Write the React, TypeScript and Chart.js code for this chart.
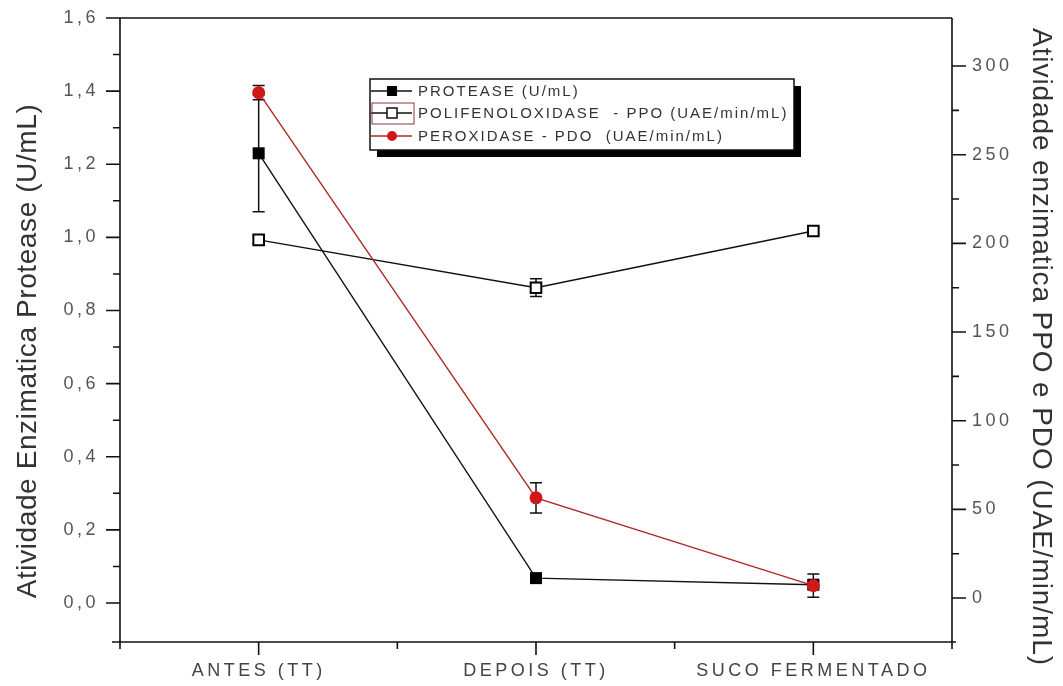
import React, { useEffect, useRef } from 'react';
import { Chart, registerables } from 'chart.js';

Chart.register(...registerables);

const categories = ['ANTES (TT)', 'DEPOIS (TT)', 'SUCO FERMENTADO'];
const proteaseValues = [1.23, 0.068, 0.05];
const proteaseErrors = [0.16, 0.012, 0.01];
const ppoValues = [202, 175, 207];
const ppoErrors = [2, 5, 2];
const pdoValues = [285, 56.5, 7];
const pdoErrors = [4, 8.5, 6.5];
const leftTicks = [0, 0.2, 0.4, 0.6, 0.8, 1.0, 1.2, 1.4, 1.6];
const rightTicks = [0, 50, 100, 150, 200, 250, 300];
const legendLabels = [
  'PROTEASE (U/mL)',
  'POLIFENOLOXIDASE  - PPO (UAE/min/mL)',
  'PEROXIDASE - PDO  (UAE/min/mL)',
];
const leftTitle = 'Atividade Enzimatica Protease (U/mL)';
const rightTitle = 'Atividade enzimatica PPO e PDO (UAE/min/mL)';

const FONT = '"Liberation Sans", Arial, sans-serif';
const RED = '#d01818';

const mids = (arr: number[]) => arr.slice(1).map((v, i) => (v + arr[i]) / 2);

const decorPlugin = {
  id: 'decor',
  beforeDraw(chart: any) {
    chart.ctx.letterSpacing = '3.5px';
  },
  beforeDatasetsDraw(chart: any) {
    const ctx = chart.ctx;
    ctx.letterSpacing = '0px';
    const { x, y, y1 } = chart.scales;
    const drawErr = (vals: number[], errs: number[], ys: any) => {
      ctx.save();
      ctx.strokeStyle = '#111';
      ctx.lineWidth = 1.5;
      vals.forEach((v, i) => {
        const px = x.getPixelForValue(i + 1);
        const top = ys.getPixelForValue(v + errs[i]);
        const bot = ys.getPixelForValue(v - errs[i]);
        ctx.beginPath();
        ctx.moveTo(px, top);
        ctx.lineTo(px, bot);
        ctx.moveTo(px - 6, top);
        ctx.lineTo(px + 6, top);
        ctx.moveTo(px - 6, bot);
        ctx.lineTo(px + 6, bot);
        ctx.stroke();
      });
      ctx.restore();
    };
    drawErr(proteaseValues, proteaseErrors, y);
    drawErr(ppoValues, ppoErrors, y1);
    drawErr(pdoValues, pdoErrors, y1);
  },
  afterDraw(chart: any) {
    const ctx = chart.ctx;
    const ca = chart.chartArea;
    const { x, y, y1 } = chart.scales;
    ctx.save();
    ctx.letterSpacing = '0px';
    ctx.strokeStyle = '#111';
    ctx.lineWidth = 1.6;
    ctx.beginPath();
    ctx.moveTo(ca.left, ca.top);
    ctx.lineTo(ca.right, ca.top);
    ctx.moveTo(ca.left - 8, ca.bottom);
    ctx.lineTo(ca.right + 4, ca.bottom);
    ctx.moveTo(ca.left, ca.top);
    ctx.lineTo(ca.left, ca.bottom);
    ctx.moveTo(ca.right, ca.top);
    ctx.lineTo(ca.right, ca.bottom);
    leftTicks.forEach((v) => {
      const p = y.getPixelForValue(v);
      ctx.moveTo(ca.left - 14, p);
      ctx.lineTo(ca.left, p);
    });
    mids(leftTicks).forEach((v) => {
      const p = y.getPixelForValue(v);
      ctx.moveTo(ca.left - 7, p);
      ctx.lineTo(ca.left, p);
    });
    rightTicks.forEach((v) => {
      const p = y1.getPixelForValue(v);
      ctx.moveTo(ca.right, p);
      ctx.lineTo(ca.right + 14, p);
    });
    mids(rightTicks).forEach((v) => {
      const p = y1.getPixelForValue(v);
      ctx.moveTo(ca.right, p);
      ctx.lineTo(ca.right + 7, p);
    });
    categories.forEach((_, i) => {
      const p = x.getPixelForValue(i + 1);
      ctx.moveTo(p, ca.bottom);
      ctx.lineTo(p, ca.bottom + 13);
    });
    [0.5, 1.5, 2.5, 3.5].forEach((v) => {
      const p = x.getPixelForValue(v);
      ctx.moveTo(p, ca.bottom);
      ctx.lineTo(p, ca.bottom + 7);
    });
    ctx.stroke();

    // axis titles
    ctx.fillStyle = '#333';
    ctx.font = `28px ${FONT}`;
    ctx.textAlign = 'center';
    ctx.textBaseline = 'middle';
    ctx.save();
    ctx.letterSpacing = '0.6px';
    ctx.translate(28, 351);
    ctx.rotate(-Math.PI / 2);
    ctx.fillText(leftTitle, 0, 0);
    ctx.restore();
    ctx.save();
    ctx.letterSpacing = '0.9px';
    ctx.translate(1041, 347);
    ctx.rotate(Math.PI / 2);
    ctx.fillText(rightTitle, 0, 0);
    ctx.restore();

    // legend
    const bx = 370, by = 79, bw = 424, bh = 71;
    ctx.fillStyle = '#000';
    ctx.fillRect(bx + 7, by + 7, bw, bh);
    ctx.fillStyle = '#fff';
    ctx.fillRect(bx, by, bw, bh);
    ctx.strokeStyle = '#111';
    ctx.lineWidth = 1.5;
    ctx.strokeRect(bx, by, bw, bh);
    const rows = [91, 113, 136];
    const sx = 392;
    ctx.beginPath();
    ctx.moveTo(bx + 1, rows[0]);
    ctx.lineTo(412, rows[0]);
    ctx.stroke();
    ctx.fillStyle = '#000';
    ctx.fillRect(sx - 5, rows[0] - 5, 10, 10);
    ctx.beginPath();
    ctx.moveTo(bx + 1, rows[1]);
    ctx.lineTo(412, rows[1]);
    ctx.stroke();
    ctx.fillStyle = '#fff';
    ctx.fillRect(sx - 5, rows[1] - 5, 10, 10);
    ctx.lineWidth = 1.5;
    ctx.strokeRect(sx - 5, rows[1] - 5, 10, 10);
    ctx.strokeStyle = '#8a3a3a';
    ctx.lineWidth = 1;
    ctx.strokeRect(372, 103, 42, 21);
    ctx.strokeStyle = '#b02828';
    ctx.lineWidth = 1.5;
    ctx.beginPath();
    ctx.moveTo(bx + 1, rows[2]);
    ctx.lineTo(412, rows[2]);
    ctx.stroke();
    ctx.fillStyle = RED;
    ctx.beginPath();
    ctx.arc(sx, rows[2], 5, 0, Math.PI * 2);
    ctx.fill();
    ctx.fillStyle = '#333';
    ctx.font = `15px ${FONT}`;
    ctx.textAlign = 'left';
    ctx.textBaseline = 'middle';
    ctx.letterSpacing = '2px';
    legendLabels.forEach((t, i) => ctx.fillText(t, 418, rows[i] + 1));
    ctx.restore();
  },
};

export default function App() {
  const ref = useRef<HTMLCanvasElement | null>(null);
  useEffect(() => {
    if (!ref.current) return;
    const tickFont = { family: FONT, size: 18 };
    const chart = new Chart(ref.current, {
      type: 'line',
      data: {
        datasets: [
          {
            label: legendLabels[2],
            data: pdoValues.map((v, i) => ({ x: i + 1, y: v })),
            yAxisID: 'y1',
            borderColor: '#b02828',
            borderWidth: 1.4,
            pointStyle: 'circle',
            pointRadius: 6.5,
            pointBackgroundColor: RED,
            pointBorderColor: RED,
            pointBorderWidth: 0,
            order: 0,
          },
          {
            label: legendLabels[0],
            data: proteaseValues.map((v, i) => ({ x: i + 1, y: v })),
            yAxisID: 'y',
            borderColor: '#111',
            borderWidth: 1.4,
            pointStyle: 'rect',
            pointRadius: 8.5,
            pointBackgroundColor: '#000',
            pointBorderColor: '#000',
            pointBorderWidth: 0,
            order: 1,
          },
          {
            label: legendLabels[1],
            data: ppoValues.map((v, i) => ({ x: i + 1, y: v })),
            yAxisID: 'y1',
            borderColor: '#111',
            borderWidth: 1.4,
            pointStyle: 'rect',
            pointRadius: 7.5,
            pointBackgroundColor: '#fff',
            pointBorderColor: '#000',
            pointBorderWidth: 2,
            order: 2,
          },
        ],
      },
      options: {
        animation: false,
        responsive: true,
        maintainAspectRatio: false,
        layout: { padding: { top: 18, left: 0, right: 0, bottom: 0 } },
        plugins: { legend: { display: false }, tooltip: { enabled: false } },
        scales: {
          x: {
            type: 'linear',
            position: 'bottom',
            min: 0.5,
            max: 3.5,
            grid: { display: false, drawTicks: false },
            border: { display: false },
            afterBuildTicks: (s: any) => {
              s.ticks = categories.map((_, i) => ({ value: i + 1 }));
            },
            afterFit: (s: any) => {
              s.height = 44;
              s.paddingLeft = 0;
              s.paddingRight = 0;
            },
            ticks: {
              autoSkip: false,
              maxRotation: 0,
              padding: 18,
              color: '#444',
              font: tickFont,
              callback: (v: any) => categories[Math.round(v) - 1] ?? '',
            },
          },
          y: {
            type: 'linear',
            position: 'left',
            min: -0.1067,
            max: 1.6,
            grid: { display: false, drawTicks: false },
            border: { display: false },
            afterBuildTicks: (s: any) => {
              s.ticks = leftTicks.map((v) => ({ value: v }));
            },
            afterFit: (s: any) => {
              s.width = 120;
              s.paddingTop = 0;
              s.paddingBottom = 0;
            },
            ticks: {
              padding: 21,
              color: '#555',
              font: tickFont,
              callback: (v: any) => Number(v).toFixed(1).replace('.', ','),
            },
          },
          y1: {
            type: 'linear',
            position: 'right',
            min: -24.8,
            max: 327.1,
            grid: { display: false, drawTicks: false },
            border: { display: false },
            afterBuildTicks: (s: any) => {
              s.ticks = rightTicks.map((v) => ({ value: v }));
            },
            afterFit: (s: any) => {
              s.width = 111;
              s.paddingTop = 0;
              s.paddingBottom = 0;
            },
            ticks: {
              padding: 20,
              color: '#555',
              font: tickFont,
              callback: (v: any) => String(v),
            },
          },
        },
      },
      plugins: [decorPlugin],
    } as any);
    return () => chart.destroy();
  }, []);
  return (
    <div style={{ position: 'fixed', left: 0, top: 0, width: 1063, height: 686, background: '#fff' }}>
      <canvas ref={ref} />
    </div>
  );
}
